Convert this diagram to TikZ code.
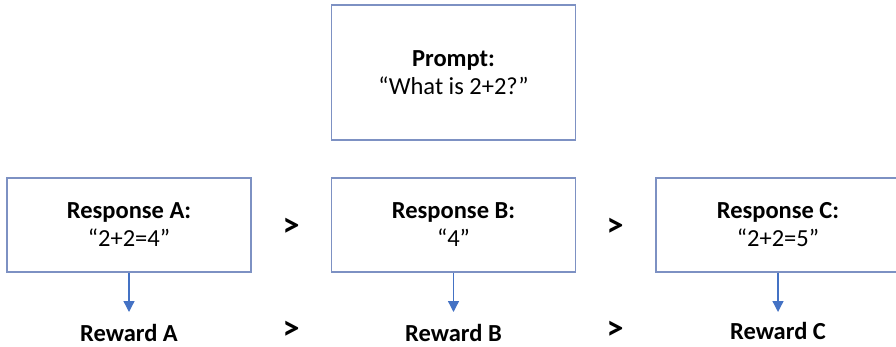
\documentclass[tikz,border=0pt]{standalone}
\usepackage{fontspec}
\setmainfont{Carlito}
\usetikzlibrary{arrows.meta}
\definecolor{boxblue}{RGB}{125,145,195}
\definecolor{arrblue}{RGB}{68,114,196}
\begin{document}
\begin{tikzpicture}[x=1pt,y=-1pt,
  card/.style={draw=boxblue,line width=1.1pt,minimum width=244pt,align=center,
    font=\fontsize{24.5}{28}\selectfont,inner sep=0pt},
  lbl/.style={font=\fontsize{24.5}{28}\selectfont\bfseries,inner sep=0pt},
  gt/.style={font=\fontsize{34}{34}\selectfont\bfseries,inner sep=0pt},
  link/.style={draw=arrblue,line width=1.3pt,-{Triangle[width=11pt,length=11pt]}}]
\clip (0,0) rectangle (896,346);
\useasboundingbox (0,0) rectangle (896,346);
\node[card,minimum height=135pt] (prompt) at (453.5,72.5) {\textbf{Prompt:}\\“What is 2+2?”};
\node[card,minimum height=94pt] (ra) at (129,225) {\textbf{Response A:}\\“2+2=4”};
\node[card,minimum height=94pt] (rb) at (453.5,225) {\textbf{Response B:}\\“4”};
\node[card,minimum height=94pt] (rc) at (778,225) {\textbf{Response C:}\\“2+2=5”};
\node[lbl] (wa) at (129,332.5) {Reward A};
\node[lbl] (wb) at (453.5,332.5) {Reward B};
\node[lbl] (wc) at (778,331) {Reward C};
\coordinate (ta) at (129,312);
\coordinate (tb) at (453.5,312);
\coordinate (tc) at (778,312);
\draw[link] (ra.south) -- (ta);
\draw[link] (rb.south) -- (tb);
\draw[link] (rc.south) -- (tc);
\node[gt] (g1) at (291,227) {>};
\node[gt] (g2) at (615,227) {>};
\node[gt] (g3) at (291,330) {>};
\node[gt] (g4) at (615,330) {>};
\end{tikzpicture}
\end{document}
